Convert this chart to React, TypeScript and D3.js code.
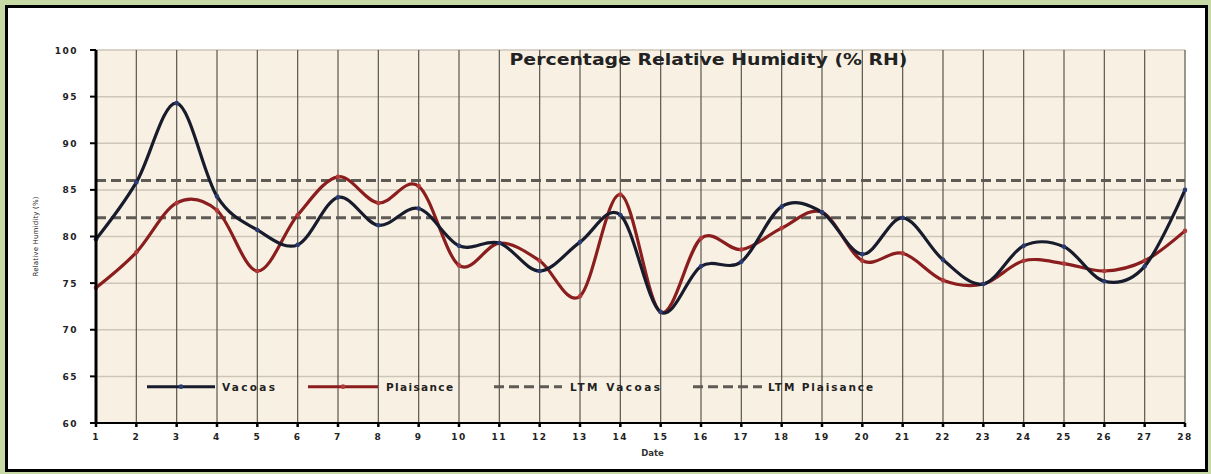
import { useMemo } from 'react'
import * as d3 from 'd3'

const WIDTH = 1211
const HEIGHT = 474
const MARGIN = { top: 50, right: 26, bottom: 51, left: 96 }

const DATES = ['1', '2', '3', '4', '5', '6', '7', '8', '9', '10', '11', '12', '13', '14',
  '15', '16', '17', '18', '19', '20', '21', '22', '23', '24', '25', '26', '27', '28']

const VACOAS = [79.7, 85.8, 94.3, 84.3, 80.7, 79.1, 84.2, 81.2, 83.0, 79.0, 79.3, 76.3, 79.4, 82.3,
  71.9, 76.8, 77.3, 83.2, 82.6, 78.1, 82.0, 77.5, 74.9, 79.0, 78.9, 75.2, 76.8, 85.0]

const PLAISANCE = [74.5, 78.3, 83.6, 82.8, 76.3, 82.3, 86.4, 83.6, 85.4, 76.9, 79.3, 77.4, 73.6, 84.5,
  71.9, 79.8, 78.6, 80.9, 82.6, 77.4, 78.2, 75.3, 74.9, 77.4, 77.1, 76.3, 77.4, 80.6]

const LTM_VACOAS = 86
const LTM_PLAISANCE = 82

const Y_TICKS = [60, 65, 70, 75, 80, 85, 90, 95, 100]

const VACOAS_COLOR = '#171b2c'
const VACOAS_MARKER = '#2b3c75'
const PLAISANCE_COLOR = '#8a1d1d'
const PLAISANCE_MARKER = '#b23a3a'
const LTM_COLOR = '#5e5a55'

const LEGEND = [
  { label: 'Vacoas', kind: 'vacoas', x0: 147, x1: 215, tx: 222, tw: 53 },
  { label: 'Plaisance', kind: 'plaisance', x0: 308, x1: 378, tx: 386, tw: 67 },
  { label: 'LTM Vacoas', kind: 'ltm', x0: 494, x1: 562, tx: 570, tw: 90 },
  { label: 'LTM Plaisance', kind: 'ltm', x0: 693, x1: 762, tx: 768, tw: 105 },
]

const FONT = '"DejaVu Sans", Verdana, sans-serif'

const App = () => {
  const boundsWidth = WIDTH - MARGIN.left - MARGIN.right
  const boundsHeight = HEIGHT - MARGIN.top - MARGIN.bottom

  const xScale = useMemo(() => d3.scalePoint().domain(DATES).range([0, boundsWidth]), [boundsWidth])
  const yScale = useMemo(() => d3.scaleLinear().domain([60, 100]).range([boundsHeight, 0]), [boundsHeight])

  const line = d3
    .line<number>()
    .x((_, i) => xScale(DATES[i]) ?? 0)
    .y((d) => yScale(d))
    .curve(d3.curveCardinal.tension(0))

  const series = [
    { values: PLAISANCE, color: PLAISANCE_COLOR, marker: PLAISANCE_MARKER },
    { values: VACOAS, color: VACOAS_COLOR, marker: VACOAS_MARKER },
  ]

  const legendY = yScale(63.9)

  return (
    <svg width={WIDTH} height={HEIGHT} style={{ position: 'absolute', left: 0, top: 0 }}>
      <rect x={0} y={0} width={WIDTH} height={HEIGHT} fill="#c7daa5" />
      <rect x={6.5} y={6.5} width={WIDTH - 11} height={HEIGHT - 10} fill="#ffffff" stroke="#000" strokeWidth={3} />

      <g transform={`translate(${MARGIN.left},${MARGIN.top})`}>
        <rect x={0} y={0} width={boundsWidth} height={boundsHeight} fill="#f8f1e3" />

        {/* horizontal grid */}
        {Y_TICKS.map((t) => (
          <line key={`h${t}`} x1={0} x2={boundsWidth} y1={yScale(t)} y2={yScale(t)}
            stroke="#cdc5b8" strokeWidth={1.5} />
        ))}

        {/* vertical grid */}
        {DATES.slice(1).map((d) => (
          <line key={`v${d}`} x1={xScale(d)} x2={xScale(d)} y1={0} y2={boundsHeight}
            stroke="#5a554e" strokeWidth={1.2} />
        ))}

        {/* title */}
        <text x={boundsWidth / 2 + 68} y={15} textAnchor="middle" fontFamily={FONT} fontWeight="bold"
          fontSize={15.5} fill="#222" textLength={398} lengthAdjust="spacingAndGlyphs">
          Percentage Relative Humidity (% RH)
        </text>

        {/* LTM lines */}
        {[LTM_VACOAS, LTM_PLAISANCE].map((v, i) => (
          <line key={`ltm${i}`} x1={0} x2={boundsWidth} y1={yScale(v)} y2={yScale(v)}
            stroke={LTM_COLOR} strokeWidth={3} strokeDasharray="10,5" />
        ))}

        {/* series */}
        {series.map((s, k) => (
          <g key={k}>
            <path d={line(s.values) ?? ''} fill="none" stroke={s.color} strokeWidth={3.2}
              strokeLinejoin="round" />
            {s.values.map((v, i) => (
              <circle key={i} cx={xScale(DATES[i])} cy={yScale(v)} r={2.3} fill={s.marker} />
            ))}
          </g>
        ))}

        {/* legend */}
        {LEGEND.map((l) => {
          const lx0 = l.x0 - MARGIN.left
          const lx1 = l.x1 - MARGIN.left
          const color = l.kind === 'vacoas' ? VACOAS_COLOR : l.kind === 'plaisance' ? PLAISANCE_COLOR : LTM_COLOR
          return (
            <g key={l.label}>
              <line x1={lx0} x2={lx1} y1={legendY} y2={legendY} stroke={color} strokeWidth={3}
                strokeDasharray={l.kind === 'ltm' ? '10,5' : undefined} />
              {l.kind !== 'ltm' && (
                <circle cx={(lx0 + lx1) / 2} cy={legendY} r={2.3}
                  fill={l.kind === 'vacoas' ? VACOAS_MARKER : PLAISANCE_MARKER} />
              )}
              <text x={l.tx - MARGIN.left} y={legendY + 4} fontFamily={FONT} fontWeight="bold"
                fontSize={10.5} fill="#222" textLength={l.tw} lengthAdjust="spacing">
                {l.label}
              </text>
            </g>
          )
        })}

        {/* axes */}
        <line x1={0} x2={0} y1={0} y2={boundsHeight} stroke="#000" strokeWidth={3} />
        <line x1={0} x2={boundsWidth} y1={boundsHeight} y2={boundsHeight} stroke="#000" strokeWidth={2} />

        {Y_TICKS.map((t) => (
          <g key={`yt${t}`}>
            <line x1={-6} x2={0} y1={yScale(t)} y2={yScale(t)} stroke="#000" strokeWidth={2} />
            <text x={-18} y={yScale(t) + 3.5} textAnchor="end" fontFamily={FONT} fontWeight="bold"
              fontSize={9} fill="#222" letterSpacing={1.5}>
              {t}
            </text>
          </g>
        ))}

        {DATES.map((d) => (
          <g key={`xt${d}`}>
            <line x1={xScale(d)} x2={xScale(d)} y1={boundsHeight} y2={boundsHeight + 4}
              stroke="#000" strokeWidth={2.5} />
            <text x={xScale(d)} y={boundsHeight + 17} textAnchor="middle" fontFamily={FONT}
              fontWeight="bold" fontSize={9} fill="#222" letterSpacing={1.5}>
              {d}
            </text>
          </g>
        ))}

        <text x={boundsWidth / 2 + 12} y={boundsHeight + 33} textAnchor="middle" fontFamily={FONT}
          fontWeight="bold" fontSize={8.5} fill="#333">
          Date
        </text>

        <text transform={`translate(${38 - MARGIN.left},${yScale(80)}) rotate(-90)`} textAnchor="middle"
          fontFamily={FONT} fontSize={7} fill="#222" textLength={80} lengthAdjust="spacing">
          Relative Humidity (%)
        </text>
      </g>
    </svg>
  )
}

export default App
